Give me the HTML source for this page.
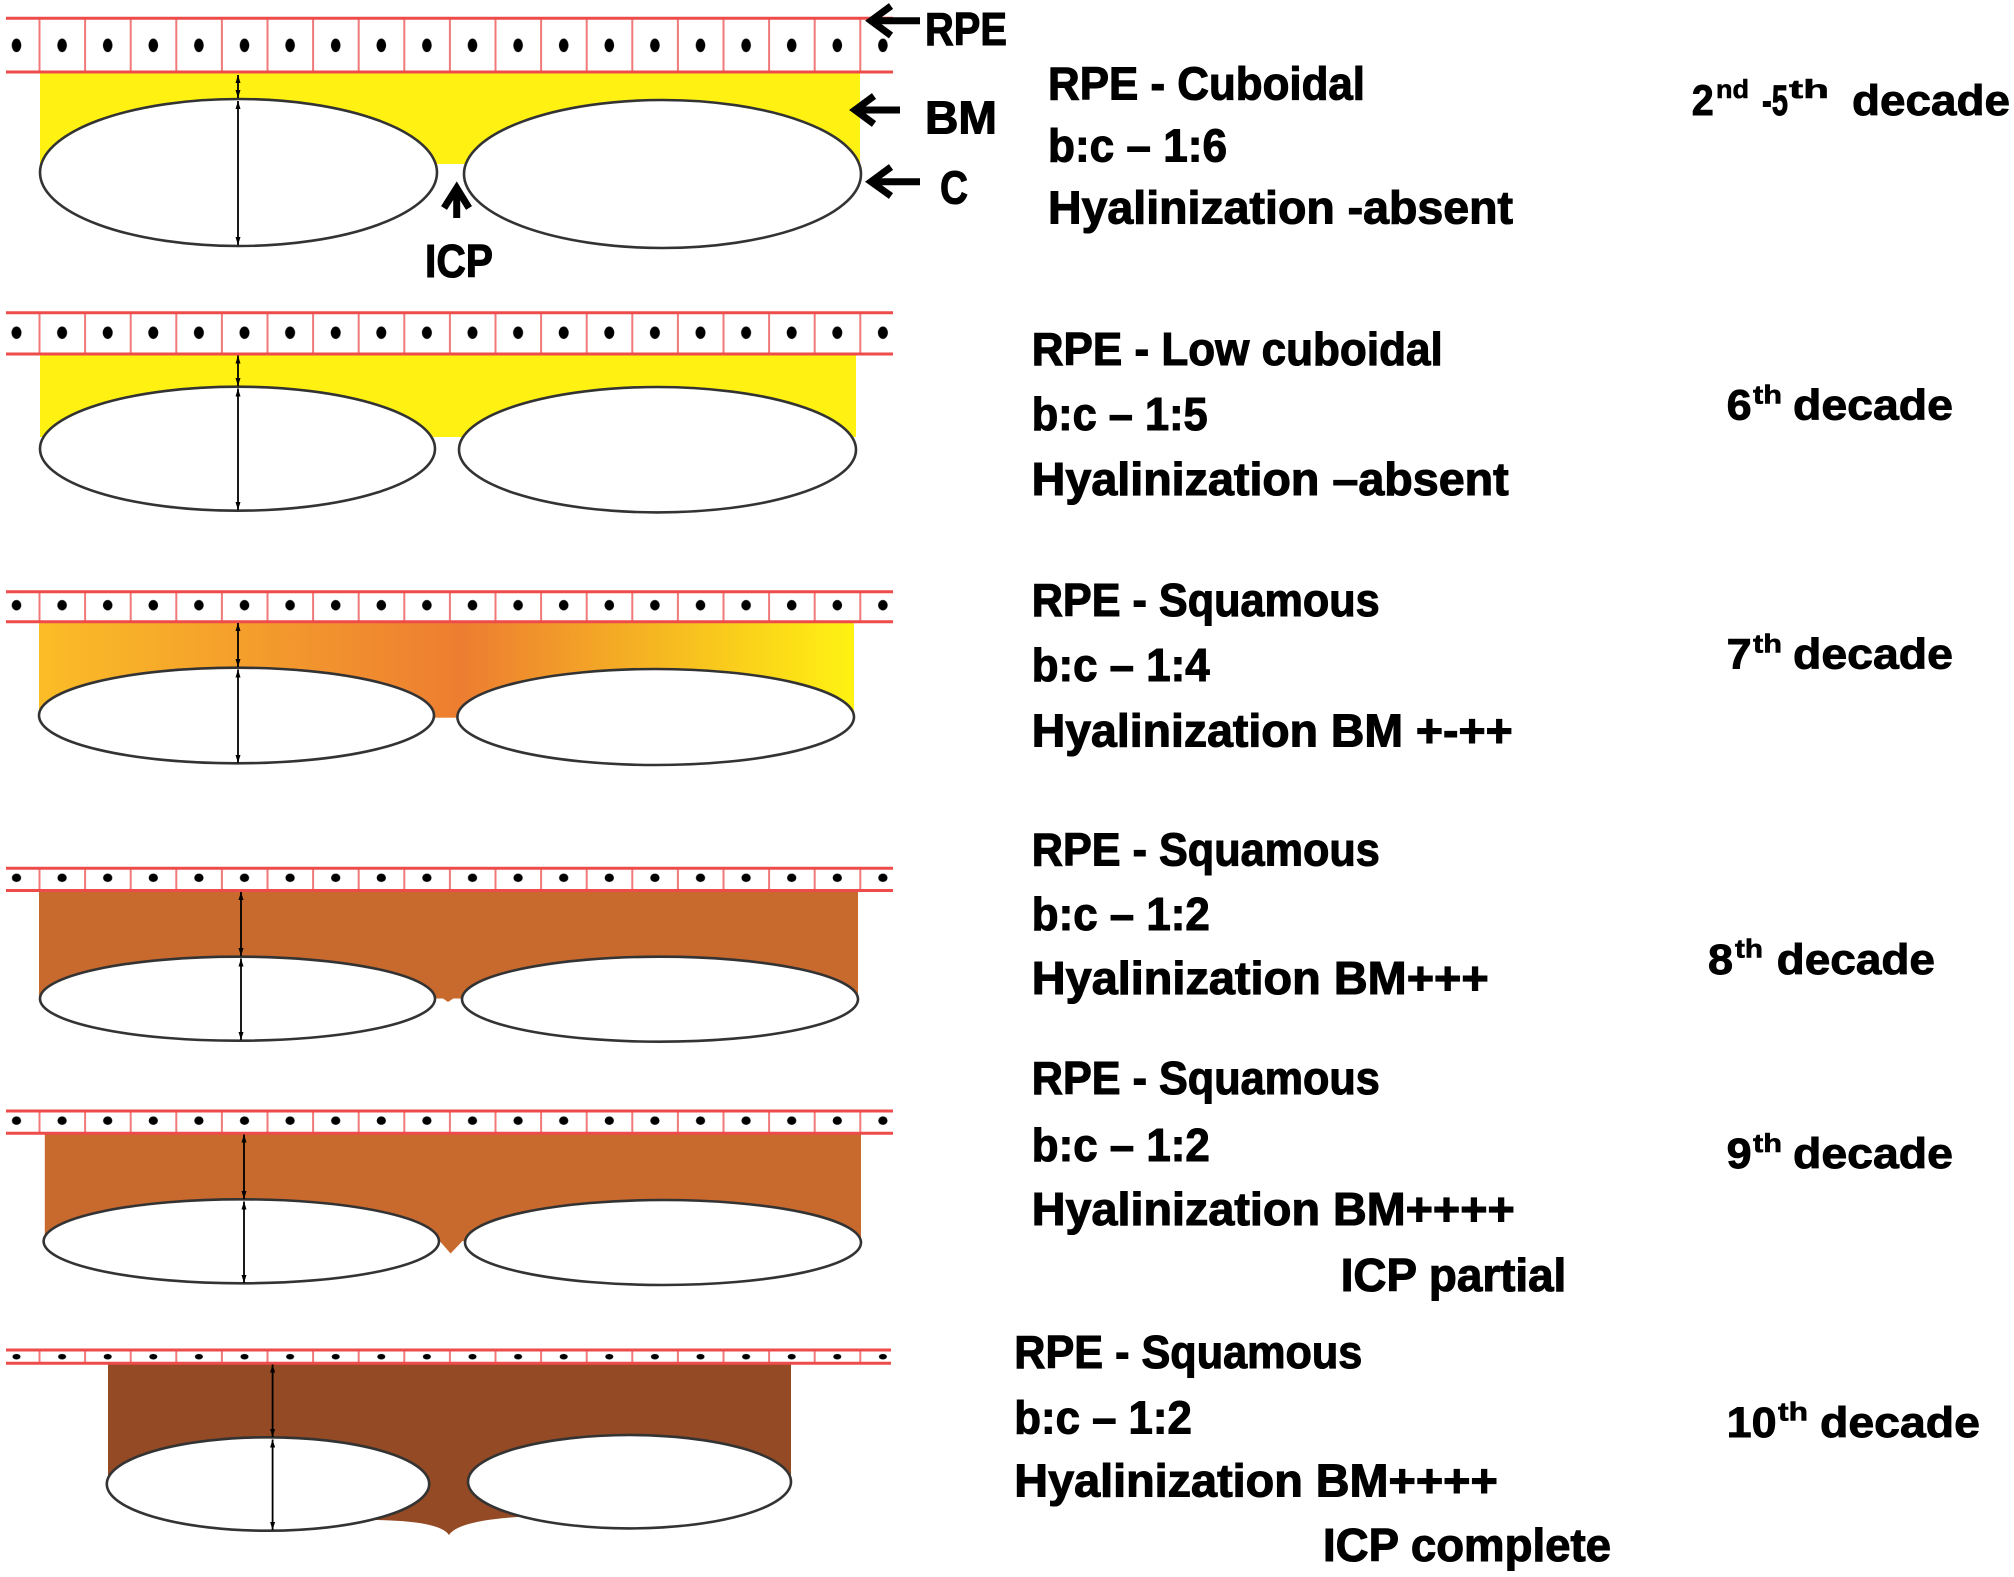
<!DOCTYPE html>
<html>
<head>
<meta charset="utf-8">
<style>
  html,body{margin:0;padding:0;background:#fff;}
  svg{display:block;}
  .t{font-family:"Liberation Sans",Arial,sans-serif;font-weight:bold;font-size:46px;fill:#000;stroke:#000;stroke-width:1.1px;}
  .d{font-family:"Liberation Sans",Arial,sans-serif;font-weight:bold;font-size:43px;fill:#000;stroke:#000;stroke-width:0.9px;}
  .s{font-family:"Liberation Sans",Arial,sans-serif;font-weight:bold;font-size:26px;fill:#000;stroke:#000;stroke-width:0.6px;}
</style>
</head>
<body>
<svg width="2014" height="1577" viewBox="0 0 2014 1577" xmlns="http://www.w3.org/2000/svg">
  <defs>
    <marker id="a" viewBox="0 0 10 10" refX="10" refY="5" markerWidth="8" markerHeight="5" orient="auto-start-reverse" markerUnits="userSpaceOnUse" preserveAspectRatio="none">
      <path d="M0,0 L10,5 L0,10 z" fill="#000"/>
    </marker>
    <linearGradient id="g3" x1="39" y1="0" x2="854" y2="0" gradientUnits="userSpaceOnUse">
      <stop offset="0" stop-color="#fbbd27"/>
      <stop offset="0.52" stop-color="#ed7d31"/>
      <stop offset="1" stop-color="#fff212"/>
    </linearGradient>
    <pattern id="p1" x="38.5" y="18.3" width="45.6" height="53.7" patternUnits="userSpaceOnUse">
      <rect x="0" y="0" width="2" height="53.7" fill="#f07a7a"/>
      <ellipse cx="23.6" cy="27" rx="4.8" ry="6.8" fill="#000"/>
    </pattern>
    <pattern id="p2" x="38.5" y="312.7" width="45.6" height="41.3" patternUnits="userSpaceOnUse">
      <rect x="0" y="0" width="2" height="41.3" fill="#f07a7a"/>
      <ellipse cx="23.6" cy="20" rx="5" ry="6.2" fill="#000"/>
    </pattern>
    <pattern id="p3" x="38.5" y="591.7" width="45.6" height="30" patternUnits="userSpaceOnUse">
      <rect x="0" y="0" width="2" height="30" fill="#f07a7a"/>
      <ellipse cx="23.6" cy="13.5" rx="4.8" ry="5.2" fill="#000"/>
    </pattern>
    <pattern id="p4" x="38.5" y="868.3" width="45.6" height="22.2" patternUnits="userSpaceOnUse">
      <rect x="0" y="0" width="2" height="22.2" fill="#f07a7a"/>
      <ellipse cx="23.6" cy="9.5" rx="4.6" ry="4.2" fill="#000"/>
    </pattern>
    <pattern id="p5" x="38.5" y="1111" width="45.6" height="22.3" patternUnits="userSpaceOnUse">
      <rect x="0" y="0" width="2" height="22.3" fill="#f07a7a"/>
      <ellipse cx="23.6" cy="9.7" rx="4.6" ry="4.2" fill="#000"/>
    </pattern>
    <pattern id="p6" x="38.5" y="1350" width="45.6" height="13.3" patternUnits="userSpaceOnUse">
      <rect x="0" y="0" width="2" height="13.3" fill="#f07a7a"/>
      <ellipse cx="23.6" cy="6.7" rx="4" ry="2.8" fill="#000"/>
    </pattern>
  </defs>

  <!-- ================= FILLS ================= -->
  <rect x="40" y="72" width="820" height="92" fill="#fff212"/>
  <rect x="40" y="354" width="816" height="83" fill="#fff212"/>
  <rect x="39" y="621.7" width="815" height="96" fill="url(#g3)"/>
  <rect x="39" y="890.5" width="819" height="108" fill="#c8692e"/>
  <polygon points="428,988 469,988 448,1002" fill="#c8692e"/>
  <rect x="44.8" y="1133" width="816.2" height="108" fill="#c8692e"/>
  <polygon points="430,1230 473,1230 450.6,1253.5" fill="#c8692e"/>
  <path d="M108,1363 L791,1363 L791,1482 L517,1517 Q458,1521 449,1535 Q440,1521 376,1520 L108,1484 Z" fill="#934a25"/>

  <!-- ================= BANDS ================= -->
  <g>
    <rect x="6" y="18.3" width="887" height="53.7" fill="url(#p1)"/>
    <line x1="6" y1="18.3" x2="893" y2="18.3" stroke="#ee4b4b" stroke-width="3"/>
    <line x1="6" y1="72" x2="893" y2="72" stroke="#ee4b4b" stroke-width="3"/>

    <rect x="6" y="312.7" width="887" height="41.3" fill="url(#p2)"/>
    <line x1="6" y1="312.7" x2="893" y2="312.7" stroke="#ee4b4b" stroke-width="3"/>
    <line x1="6" y1="354" x2="893" y2="354" stroke="#ee4b4b" stroke-width="3"/>

    <rect x="6" y="591.7" width="887" height="30" fill="url(#p3)"/>
    <line x1="6" y1="591.7" x2="893" y2="591.7" stroke="#ee4b4b" stroke-width="3"/>
    <line x1="6" y1="621.7" x2="893" y2="621.7" stroke="#ee4b4b" stroke-width="3"/>

    <rect x="6" y="868.3" width="887" height="22.2" fill="url(#p4)"/>
    <line x1="6" y1="868.3" x2="893" y2="868.3" stroke="#ee4b4b" stroke-width="3"/>
    <line x1="6" y1="890.5" x2="893" y2="890.5" stroke="#ee4b4b" stroke-width="3"/>

    <rect x="6" y="1111" width="887" height="22.3" fill="url(#p5)"/>
    <line x1="6" y1="1111" x2="893" y2="1111" stroke="#ee4b4b" stroke-width="3"/>
    <line x1="6" y1="1133.3" x2="893" y2="1133.3" stroke="#ee4b4b" stroke-width="3"/>

    <rect x="6" y="1350" width="885" height="13.3" fill="url(#p6)"/>
    <line x1="6" y1="1350" x2="891" y2="1350" stroke="#ee4b4b" stroke-width="3"/>
    <line x1="6" y1="1363.3" x2="891" y2="1363.3" stroke="#ee4b4b" stroke-width="3"/>
  </g>

  <!-- ================= ELLIPSES ================= -->
  <g fill="#fff" stroke="#333" stroke-width="2.6">
    <ellipse cx="238.5" cy="172.5" rx="198.5" ry="73.5"/>
    <ellipse cx="662.5" cy="174" rx="198.5" ry="74"/>
    <ellipse cx="237.5" cy="448.7" rx="197.5" ry="62"/>
    <ellipse cx="657.5" cy="449.7" rx="198.5" ry="62.7"/>
    <ellipse cx="236.5" cy="715.5" rx="197.5" ry="47.8"/>
    <ellipse cx="655.7" cy="717" rx="198.3" ry="48"/>
    <ellipse cx="237.5" cy="998.7" rx="197.5" ry="42"/>
    <ellipse cx="660" cy="999.2" rx="198" ry="42.5"/>
    <ellipse cx="241.3" cy="1241.3" rx="197.7" ry="42"/>
    <ellipse cx="663" cy="1242.5" rx="198" ry="42.5"/>
    <ellipse cx="268" cy="1484" rx="161.2" ry="46.7"/>
    <ellipse cx="629.5" cy="1481.7" rx="161.5" ry="46.7"/>
  </g>

  <!-- ================= MEASURING LINES ================= -->
  <g stroke="#000" stroke-width="1.8" marker-start="url(#a)" marker-end="url(#a)">
    <line x1="238" y1="75" x2="238" y2="98"/>
    <line x1="238" y1="101" x2="238" y2="245"/>
    <line x1="238" y1="355.5" x2="238" y2="386"/>
    <line x1="238" y1="388.5" x2="238" y2="510"/>
    <line x1="238" y1="623" x2="238" y2="667"/>
    <line x1="238" y1="669.5" x2="238" y2="763"/>
    <line x1="241" y1="892" x2="241" y2="956"/>
    <line x1="241" y1="958.5" x2="241" y2="1040"/>
    <line x1="244" y1="1134.5" x2="244" y2="1199"/>
    <line x1="244" y1="1201.5" x2="244" y2="1283"/>
    <line x1="272.6" y1="1364.5" x2="272.6" y2="1437"/>
    <line x1="272.6" y1="1439.5" x2="272.6" y2="1530"/>
  </g>

  <!-- ================= LABEL ARROWS ================= -->
  <g stroke="#000" stroke-width="7" fill="none" stroke-linejoin="miter">
    <path d="M871,20.7 H920"/>
    <path d="M891,6 L871,20.7 L891,35.5"/>
    <path d="M855,110 H900"/>
    <path d="M874,96 L855,110 L874,124"/>
    <path d="M871,181.7 H920"/>
    <path d="M891,167 L871,181.7 L891,196"/>
    <path d="M456.7,188 V218"/>
    <path d="M444,208 L456.7,188 L469,208"/>
  </g>

  <!-- ================= LABELS ================= -->
  <text class="t" x="925" y="45" textLength="82" lengthAdjust="spacingAndGlyphs">RPE</text>
  <text class="t" x="925" y="133.3" textLength="72" lengthAdjust="spacingAndGlyphs">BM</text>
  <text class="t" x="940" y="203.3" textLength="28" lengthAdjust="spacingAndGlyphs">C</text>
  <text class="t" x="425" y="277" textLength="68" lengthAdjust="spacingAndGlyphs">ICP</text>

  <!-- Panel 1 text -->
  <text class="t" x="1048" y="99.3" textLength="317" lengthAdjust="spacingAndGlyphs">RPE - Cuboidal</text>
  <text class="t" x="1048" y="161.7" textLength="179" lengthAdjust="spacingAndGlyphs">b:c – 1:6</text>
  <text class="t" x="1048" y="223.3" textLength="465" lengthAdjust="spacingAndGlyphs">Hyalinization -absent</text>

  <!-- Panel 2 text -->
  <text class="t" x="1031.7" y="365" textLength="411" lengthAdjust="spacingAndGlyphs">RPE - Low cuboidal</text>
  <text class="t" x="1031.7" y="430" textLength="176" lengthAdjust="spacingAndGlyphs">b:c – 1:5</text>
  <text class="t" x="1031.7" y="495" textLength="477" lengthAdjust="spacingAndGlyphs">Hyalinization –absent</text>

  <!-- Panel 3 text -->
  <text class="t" x="1031.7" y="616" textLength="348" lengthAdjust="spacingAndGlyphs">RPE - Squamous</text>
  <text class="t" x="1031.7" y="681" textLength="178" lengthAdjust="spacingAndGlyphs">b:c – 1:4</text>
  <text class="t" x="1031.7" y="746.7" textLength="481" lengthAdjust="spacingAndGlyphs">Hyalinization BM +-++</text>

  <!-- Panel 4 text -->
  <text class="t" x="1031.8" y="865.7" textLength="348" lengthAdjust="spacingAndGlyphs">RPE - Squamous</text>
  <text class="t" x="1031.8" y="930" textLength="178" lengthAdjust="spacingAndGlyphs">b:c – 1:2</text>
  <text class="t" x="1031.8" y="994.2" textLength="457" lengthAdjust="spacingAndGlyphs">Hyalinization BM+++</text>

  <!-- Panel 5 text -->
  <text class="t" x="1031.8" y="1094" textLength="348" lengthAdjust="spacingAndGlyphs">RPE - Squamous</text>
  <text class="t" x="1031.8" y="1160.8" textLength="178" lengthAdjust="spacingAndGlyphs">b:c – 1:2</text>
  <text class="t" x="1031.8" y="1225" textLength="483" lengthAdjust="spacingAndGlyphs">Hyalinization BM++++</text>
  <text class="t" x="1340.7" y="1290.8" textLength="225.6" lengthAdjust="spacingAndGlyphs">ICP partial</text>

  <!-- Panel 6 text -->
  <text class="t" x="1014.3" y="1367.9" textLength="348" lengthAdjust="spacingAndGlyphs">RPE - Squamous</text>
  <text class="t" x="1014.3" y="1433.6" textLength="177.5" lengthAdjust="spacingAndGlyphs">b:c – 1:2</text>
  <text class="t" x="1014.3" y="1496.4" textLength="483.5" lengthAdjust="spacingAndGlyphs">Hyalinization BM++++</text>
  <text class="t" x="1323" y="1560.9" textLength="288" lengthAdjust="spacingAndGlyphs">ICP complete</text>

  <!-- ================= DECADES ================= -->
  <text class="d" x="1691.7" y="115" textLength="22" lengthAdjust="spacingAndGlyphs">2</text>
  <text class="s" x="1716" y="98" textLength="33" lengthAdjust="spacingAndGlyphs">nd</text>
  <text class="d" x="1762" y="115" textLength="26" lengthAdjust="spacingAndGlyphs">-5</text>
  <text class="s" x="1789" y="98" textLength="40" lengthAdjust="spacingAndGlyphs">th</text>
  <text class="d" x="1852" y="115" textLength="158" lengthAdjust="spacingAndGlyphs">decade</text>

  <text class="d" x="1726.7" y="419.6" textLength="25" lengthAdjust="spacingAndGlyphs">6</text>
  <text class="s" x="1753" y="403.5" textLength="29" lengthAdjust="spacingAndGlyphs">th</text>
  <text class="d" x="1793" y="419.6" textLength="160" lengthAdjust="spacingAndGlyphs">decade</text>

  <text class="d" x="1726.7" y="668.7" textLength="25" lengthAdjust="spacingAndGlyphs">7</text>
  <text class="s" x="1753" y="652.6" textLength="29" lengthAdjust="spacingAndGlyphs">th</text>
  <text class="d" x="1793" y="668.7" textLength="160" lengthAdjust="spacingAndGlyphs">decade</text>

  <text class="d" x="1708" y="973.8" textLength="25" lengthAdjust="spacingAndGlyphs">8</text>
  <text class="s" x="1735" y="957.7" textLength="28" lengthAdjust="spacingAndGlyphs">th</text>
  <text class="d" x="1776.7" y="973.8" textLength="158.3" lengthAdjust="spacingAndGlyphs">decade</text>

  <text class="d" x="1726.7" y="1168" textLength="25" lengthAdjust="spacingAndGlyphs">9</text>
  <text class="s" x="1753" y="1151.9" textLength="29" lengthAdjust="spacingAndGlyphs">th</text>
  <text class="d" x="1793" y="1168" textLength="160" lengthAdjust="spacingAndGlyphs">decade</text>

  <text class="d" x="1726.7" y="1436.8" textLength="50" lengthAdjust="spacingAndGlyphs">10</text>
  <text class="s" x="1778" y="1420.7" textLength="30" lengthAdjust="spacingAndGlyphs">th</text>
  <text class="d" x="1820" y="1436.8" textLength="160" lengthAdjust="spacingAndGlyphs">decade</text>
</svg>
</body>
</html>
